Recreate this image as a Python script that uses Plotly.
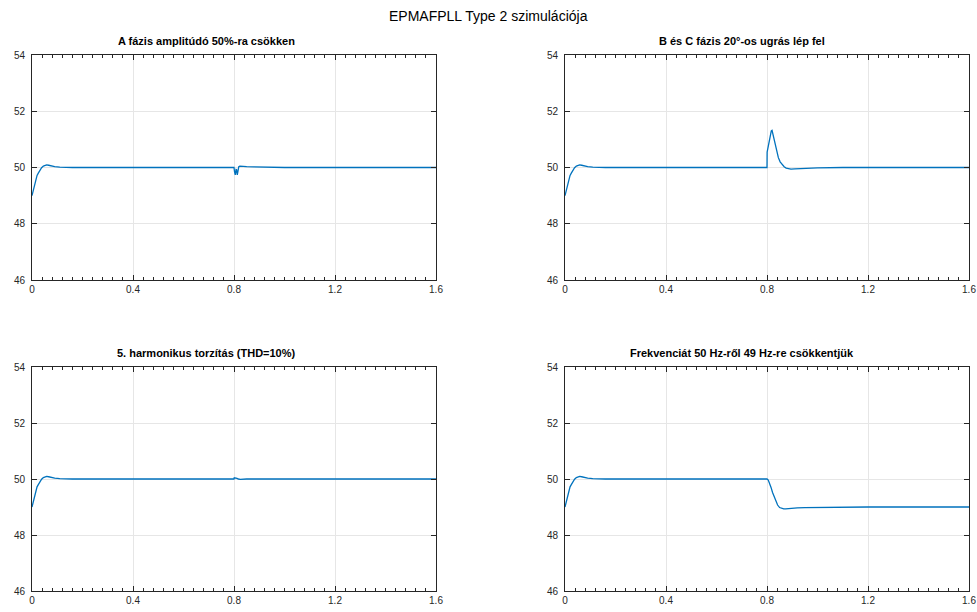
import plotly.graph_objects as go

W, H = 977, 612

# ---- data ----
t_start = [0.0, 0.005, 0.009, 0.013, 0.016, 0.02, 0.025, 0.03, 0.038, 0.045, 0.052, 0.058,
           0.066, 0.075, 0.09, 0.11, 0.13, 0.16, 0.2]
v_start = [49.0, 49.18, 49.32, 49.5, 49.63, 49.72, 49.8, 49.88, 49.99, 50.05, 50.08, 50.09,
           50.08, 50.06, 50.03, 50.015, 50.005, 50.0, 50.0]

t_a = [0.6, 0.8, 0.802, 0.805, 0.808, 0.81, 0.813, 0.816, 0.819, 0.823, 0.83, 0.85, 0.88,
       0.92, 1.0, 1.2, 1.6]
v_a = [50.0, 50.0, 49.85, 49.74, 49.93, 49.92, 49.74, 49.9, 50.03, 50.05, 50.04, 50.03, 50.02,
       50.01, 50.0, 50.0, 50.0]

t_b = [0.6, 0.8, 0.8005, 0.804, 0.808, 0.813, 0.817, 0.82, 0.823, 0.827, 0.832, 0.838, 0.845,
       0.852, 0.86, 0.868, 0.876, 0.885, 0.895, 0.91, 0.93, 0.96, 1.0, 1.1, 1.6]
v_b = [50.0, 50.0, 50.55, 50.72, 50.95, 51.18, 51.3, 51.32, 51.2, 51.0, 50.78, 50.55, 50.35,
       50.2, 50.1, 50.03, 49.98, 49.95, 49.94, 49.95, 49.96, 49.98, 49.99, 50.0, 50.0]

t_c = [0.6, 0.8, 0.801, 0.806, 0.812, 0.817, 0.825, 0.85, 1.0, 1.6]
v_c = [50.0, 50.0, 50.04, 50.04, 50.02, 50.0, 49.99, 50.0, 50.0, 50.0]

t_d = [0.6, 0.8, 0.805, 0.81, 0.816, 0.822, 0.828, 0.835, 0.842, 0.85, 0.858, 0.866, 0.874,
       0.882, 0.892, 0.905, 0.92, 0.95, 1.0, 1.1, 1.2, 1.6]
v_d = [50.0, 50.0, 49.96, 49.86, 49.7, 49.52, 49.36, 49.2, 49.07, 48.98, 48.94, 48.93, 48.93,
       48.94, 48.955, 48.965, 48.97, 48.98, 48.985, 48.99, 49.0, 49.0]

x_ticks = [0, 0.4, 0.8, 1.2, 1.6]
x_tick_labels = ["0", "0.4", "0.8", "1.2", "1.6"]
y_ticks = [46, 48, 50, 52, 54]
y_tick_labels = ["46", "48", "50", "52", "54"]

titles = ["A fázis amplitúdó 50%-ra csökken",
          "B és C fázis 20°-os ugrás lép fel",
          "5. harmonikus torzítás (THD=10%)",
          "Frekvenciát 50 Hz-ről 49 Hz-re csökkentjük"]
main_title = "EPMAFPLL Type 2 szimulációja"

series = [(t_a, v_a), (t_b, v_b), (t_c, v_c), (t_d, v_d)]

# ---- layout (pixels) ----
px_x = [(32, 436), (565, 969), (32, 436), (565, 969)]
px_y = [(55, 280), (55, 280), (367, 591), (367, 591)]
title_cx = [206, 742, 206, 742]

fig = go.Figure()
axis_color = "#262626"
line_color = "#0072BD"

for i, (tt, vv) in enumerate(series):
    n = "" if i == 0 else str(i + 1)
    fig.add_trace(go.Scatter(
        x=t_start + tt, y=v_start + vv, mode="lines",
        line=dict(color=line_color, width=1.3),
        xaxis="x" + n, yaxis="y" + n, showlegend=False, hoverinfo="skip"))
    x0, x1 = px_x[i]
    y0, y1 = px_y[i]
    common = dict(showline=True, linecolor=axis_color, linewidth=1, mirror="allticks",
                  ticks="inside", ticklen=5, tickcolor=axis_color, tickwidth=1,
                  showgrid=True, gridcolor="#e6e6e6", gridwidth=1, zeroline=False,
                  automargin=False,
                  tickfont=dict(family="Liberation Sans, Arial", size=10, color=axis_color))
    fig.update_layout({
        "xaxis" + n: dict(domain=[x0 / W, x1 / W], range=[0, 1.6], anchor="y" + n,
                          tickvals=x_ticks, ticktext=x_tick_labels,
                          minor=dict(dtick=0.04, tick0=0, ticks="inside", ticklen=3,
                                     tickcolor=axis_color, showgrid=False),
                          **common),
        "yaxis" + n: dict(domain=[1 - y1 / H, 1 - y0 / H], range=[46, 54], anchor="x" + n,
                          tickvals=y_ticks, ticktext=y_tick_labels,
                          ticklabelstandoff=4, **common),
    })
    fig.add_annotation(text="<b>" + titles[i] + "</b>", x=title_cx[i] / W, y=1 - (y0 - 6) / H,
                       xref="paper", yref="paper", xanchor="center", yanchor="bottom",
                       showarrow=False,
                       font=dict(family="Liberation Sans, Arial", size=11, color="#000000"))

fig.add_annotation(text=main_title, x=0.5, y=1 - 6 / H, xref="paper", yref="paper",
                   xanchor="center", yanchor="top", showarrow=False,
                   font=dict(family="Liberation Sans, Arial", size=14, color="#000000"))

fig.update_layout(width=W, height=H, margin=dict(l=0, r=0, t=0, b=0, autoexpand=False),
                  paper_bgcolor="white", plot_bgcolor="white")

fig.write_html("out.html", config={"displayModeBar": False},
               post_script="document.body.style.margin='0';document.body.style.overflow='hidden';")
